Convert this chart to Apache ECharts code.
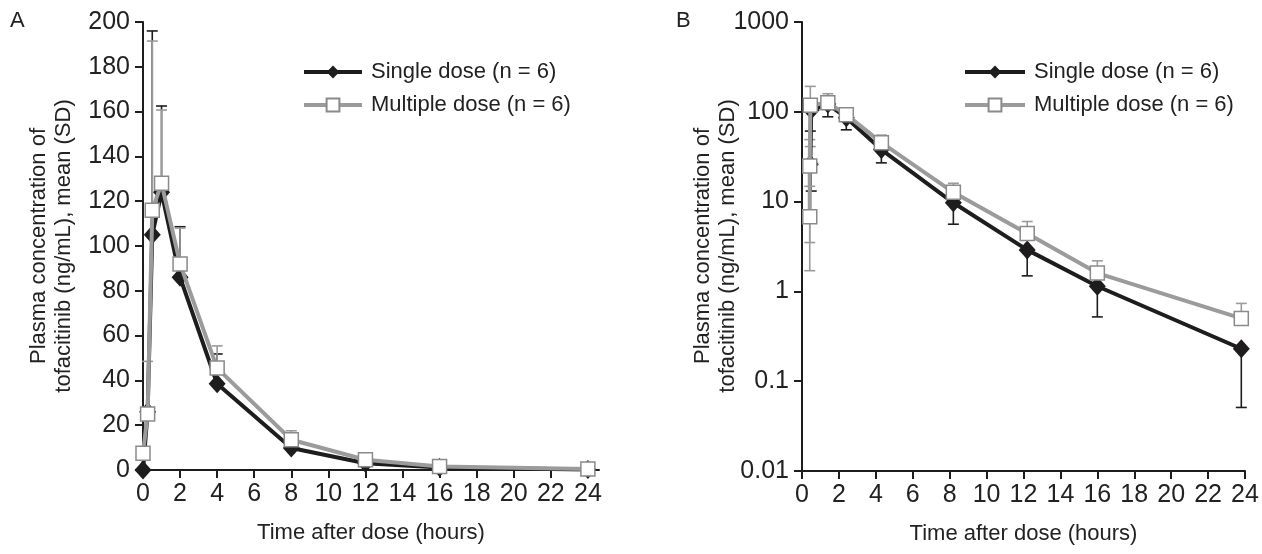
<!DOCTYPE html>
<html>
<head>
<meta charset="utf-8">
<script src="https://cdn.jsdelivr.net/npm/echarts@6/dist/echarts.min.js"></script>
<style>
html,body{margin:0;padding:0;background:#fff;}
#chart{width:1262px;height:554px;}
</style>
</head>
<body>
<div id="chart"></div>
<script>
// ---------- data ----------
const seriesNames = ['Single dose (n = 6)', 'Multiple dose (n = 6)'];
const xTicks = [0, 2, 4, 6, 8, 10, 12, 14, 16, 18, 20, 22, 24];
const yTicksA = [0, 20, 40, 60, 80, 100, 120, 140, 160, 180, 200];
const yTicksB = [0.01, 0.1, 1, 10, 100, 1000];

// Panel A (linear)
const timesA = [0, 0.25, 0.5, 1, 2, 4, 8, 12, 16, 24];
const singleA = [0, 26, 105, 124, 86, 38.5, 9.8, 3.0, 1.1, 0.23];
const singleA_upper = [null, null, 196, 162.5, 108.6, 51.8, 13, 5, 2, 1.5];
const multipleA = [7.5, 25, 116, 128, 92, 45.5, 13.5, 4.6, 1.6, 0.5];
const multipleA_upper = [null, 48.5, 191.5, 160.7, 108, 55.4, 17.5, 7.2, 3, 1];

// Panel B (log)
const timesB_single = [0.45, 0.5, 1.4, 2.4, 4.3, 8.2, 12.2, 16.0, 23.8];
const singleB = [26, 105, 122, 86, 38, 9.7, 2.9, 1.14, 0.23];
const singleB_lower = [null, 13.1, 88, 63, 27, 5.6, 1.49, 0.52, 0.051];
const singleB_upper = [61, null, null, null, null, null, null, null, null];
const timesB_multiple = [0.42, 0.42, 0.45, 1.4, 2.4, 4.3, 8.2, 12.2, 16.0, 23.8];
const multipleB = [6.8, 24.9, 118, 126, 93, 45.3, 12.7, 4.4, 1.6, 0.5];
const multipleB_lower = [1.7, 3.5, 41, null, null, null, null, null, null, null];
const multipleB_upper = [14.8, 49, 192, 159, 108, 55, 16, 6.0, 2.19, 0.735];

// ---------- styling ----------
const BLACK = '#1e1c1d';
const GRAY = '#9b9b9b';
const GRAY_EDGE = '#8a8a8a';
const FONT = 'Liberation Sans, Arial, sans-serif';
const FS = 22;
const FS_TICK = 25;

function pairs(xs, ys) { return xs.map((x, i) => [x, ys[i]]); }
function errData(xs, means, lows, highs) {
  const out = [];
  xs.forEach((x, i) => {
    const lo = lows && lows[i] != null ? lows[i] : null;
    const hi = highs && highs[i] != null ? highs[i] : null;
    if (lo == null && hi == null) return;
    out.push([x, lo != null ? lo : means[i], hi != null ? hi : means[i], lo != null ? 1 : 0, hi != null ? 1 : 0]);
  });
  return out;
}
function errRender(color) {
  return function (params, api) {
    const x = api.value(0), lo = api.value(1), hi = api.value(2);
    const capLo = api.value(3), capHi = api.value(4);
    const p1 = api.coord([x, lo]), p2 = api.coord([x, hi]);
    const w = 5.5;
    const st = { stroke: color, lineWidth: 1.6 };
    const ch = [{ type: 'line', shape: { x1: p1[0], y1: p1[1], x2: p2[0], y2: p2[1] }, style: st }];
    if (capLo) ch.push({ type: 'line', shape: { x1: p1[0] - w, y1: p1[1], x2: p1[0] + w, y2: p1[1] }, style: st });
    if (capHi) ch.push({ type: 'line', shape: { x1: p2[0] - w, y1: p2[1], x2: p2[0] + w, y2: p2[1] }, style: st });
    return { type: 'group', children: ch };
  };
}

const axisCommon = {
  axisLine: { show: true, onZero: false, lineStyle: { color: BLACK, width: 2 } },
  axisTick: { show: true, inside: false, length: 8, lineStyle: { color: BLACK, width: 2 } },
  axisLabel: { color: '#222', fontSize: FS_TICK, fontFamily: FONT },
  splitLine: { show: false },
  nameTextStyle: { color: '#222', fontSize: FS, fontFamily: FONT }
};

function lineSeries(name, data, xi, yi, single) {
  return {
    name: name, type: 'line', xAxisIndex: xi, yAxisIndex: yi, data: data,
    symbol: single ? 'diamond' : 'rect',
    symbolSize: single ? [17, 19] : 14,
    lineStyle: { color: single ? BLACK : GRAY, width: 4 },
    itemStyle: single ? { color: BLACK, borderColor: BLACK, borderWidth: 0 } : { color: '#fff', borderColor: GRAY_EDGE, borderWidth: 1.5 },
    color: single ? BLACK : GRAY,
    emphasis: { disabled: true },
    animation: false, z: single ? 3 : 4
  };
}

function legendAt(left, w) {
  return {
    data: seriesNames, orient: 'vertical', left: left, top: 56,
    itemWidth: w, itemHeight: 16, itemGap: 11,
    lineStyle: { width: 4 },
    textStyle: { fontSize: FS, fontFamily: FONT, color: '#222', padding: [0, 0, 0, 4] },
    selectedMode: false
  };
}

const option = {
  animation: false,
  backgroundColor: '#fff',
  textStyle: { fontFamily: FONT },
  grid: [
    { left: 143, top: 22, width: 456, height: 448 },
    { left: 802, top: 22, width: 443, height: 449 }
  ],
  xAxis: [
    Object.assign({}, axisCommon, {
      type: 'value', gridIndex: 0, min: 0, max: 24.6,
      axisTick: Object.assign({}, axisCommon.axisTick, { customValues: xTicks }),
      axisLabel: Object.assign({}, axisCommon.axisLabel, { customValues: xTicks, margin: 12 }),
      name: 'Time after dose (hours)', nameLocation: 'middle', nameGap: 52
    }),
    Object.assign({}, axisCommon, {
      type: 'value', gridIndex: 1, min: 0, max: 24, interval: 2,
      axisLabel: Object.assign({}, axisCommon.axisLabel, { margin: 12 }),
      name: 'Time after dose (hours)', nameLocation: 'middle', nameGap: 52
    })
  ],
  yAxis: [
    Object.assign({}, axisCommon, {
      type: 'value', gridIndex: 0, min: yTicksA[0], max: yTicksA[yTicksA.length - 1], interval: 20,
      axisLabel: Object.assign({}, axisCommon.axisLabel, { margin: 13 })
    }),
    Object.assign({}, axisCommon, {
      type: 'log', logBase: 10, gridIndex: 1, min: yTicksB[0], max: yTicksB[yTicksB.length - 1], splitNumber: 5,
      axisLabel: Object.assign({}, axisCommon.axisLabel, {
        margin: 13,
        formatter: v => String(Number(Number(v).toPrecision(6)))
      })
    })
  ],
  legend: [legendAt(297, 58), legendAt(958, 60)],
  graphic: [
    { type: 'text', left: 10, top: 10, style: { text: 'A', font: FS + 'px ' + FONT, fill: '#222' } },
    { type: 'text', left: 676, top: 10, style: { text: 'B', font: FS + 'px ' + FONT, fill: '#222' } },
    { type: 'text', x: 51, y: 246, rotation: Math.PI / 2,
      style: { text: 'Plasma concentration of\ntofacitinib (ng/mL), mean (SD)', font: FS + 'px ' + FONT, fill: '#222', align: 'center', verticalAlign: 'middle', lineHeight: 25 } },
    { type: 'text', x: 715, y: 246, rotation: Math.PI / 2,
      style: { text: 'Plasma concentration of\ntofacitinib (ng/mL), mean (SD)', font: FS + 'px ' + FONT, fill: '#222', align: 'center', verticalAlign: 'middle', lineHeight: 25 } }
  ],
  series: [
    { type: 'custom', xAxisIndex: 0, yAxisIndex: 0, renderItem: errRender(BLACK), data: errData(timesA, singleA, null, singleA_upper), z: 1, silent: true },
    { type: 'custom', xAxisIndex: 0, yAxisIndex: 0, renderItem: errRender(GRAY), data: errData(timesA, multipleA, null, multipleA_upper), z: 1, silent: true },
    { type: 'custom', xAxisIndex: 1, yAxisIndex: 1, renderItem: errRender(BLACK), data: errData(timesB_single, singleB, singleB_lower, singleB_upper), z: 1, silent: true },
    { type: 'custom', xAxisIndex: 1, yAxisIndex: 1, renderItem: errRender(GRAY), data: errData(timesB_multiple, multipleB, multipleB_lower, multipleB_upper), z: 1, silent: true },
    lineSeries(seriesNames[0], pairs(timesA, singleA), 0, 0, true),
    lineSeries(seriesNames[1], pairs(timesA, multipleA), 0, 0, false),
    lineSeries(seriesNames[0], pairs(timesB_single, singleB), 1, 1, true),
    lineSeries(seriesNames[1], pairs(timesB_multiple, multipleB), 1, 1, false)
  ]
};

const chart = echarts.init(document.getElementById('chart'), null, { renderer: 'canvas' });
chart.setOption(option);
</script>
</body>
</html>
